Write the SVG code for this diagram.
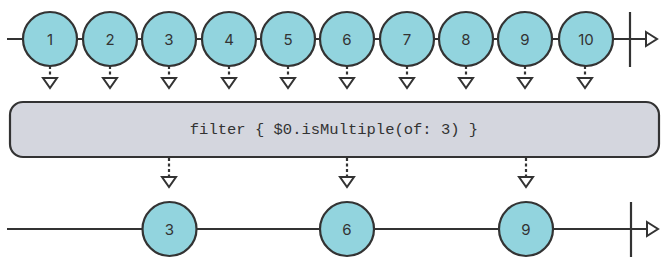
<svg xmlns="http://www.w3.org/2000/svg" width="669" height="266" viewBox="0 0 669 266">
<defs>
<style>
.ln{stroke:#333;stroke-width:2.2;fill:none}
.ds{stroke:#333;stroke-width:2.2;fill:none;stroke-dasharray:3 2.5}
.tri{fill:#fff;stroke:#333;stroke-width:2;stroke-linejoin:miter}
.c{fill:#92d4de;stroke:#333;stroke-width:2.2}
.t{font-family:"Inter","Liberation Sans",sans-serif;font-size:15px;fill:#333;text-anchor:middle;dominant-baseline:central}
.m{font-family:"Liberation Mono","DejaVu Sans Mono",monospace;font-size:15.5px;fill:#333;text-anchor:middle;dominant-baseline:central}
.box{fill:#d4d6de;stroke:#333;stroke-width:2.2}
</style>
<path id="down" class="tri" d="M-7,0 L7,0 L0,10 Z"/>
</defs>
<g id="connectors">
<line class="ln" x1="7" y1="39" x2="646" y2="39"/>
<line class="ln" x1="630" y1="12" x2="630" y2="67"/>
<path class="tri" d="M646,32 L657,39 L646,46 Z"/>
<line class="ln" x1="7" y1="229" x2="647" y2="229"/>
<line class="ln" x1="631" y1="202" x2="631" y2="257"/>
<path class="tri" d="M647,222 L658,229 L647,236 Z"/>
<g id="in-arrows">
<line class="ds" x1="50" y1="66" x2="50" y2="78"/><use href="#down" x="50" y="78"/>
<line class="ds" x1="110" y1="66" x2="110" y2="78"/><use href="#down" x="110" y="78"/>
<line class="ds" x1="169" y1="66" x2="169" y2="78"/><use href="#down" x="169" y="78"/>
<line class="ds" x1="229" y1="66" x2="229" y2="78"/><use href="#down" x="229" y="78"/>
<line class="ds" x1="288" y1="66" x2="288" y2="78"/><use href="#down" x="288" y="78"/>
<line class="ds" x1="347" y1="66" x2="347" y2="78"/><use href="#down" x="347" y="78"/>
<line class="ds" x1="407" y1="66" x2="407" y2="78"/><use href="#down" x="407" y="78"/>
<line class="ds" x1="466" y1="66" x2="466" y2="78"/><use href="#down" x="466" y="78"/>
<line class="ds" x1="525" y1="66" x2="525" y2="78"/><use href="#down" x="525" y="78"/>
<line class="ds" x1="585" y1="66" x2="585" y2="78"/><use href="#down" x="585" y="78"/>
</g>
<g id="out-arrows">
<line class="ds" x1="169" y1="158" x2="169" y2="177"/><use href="#down" x="169" y="177"/>
<line class="ds" x1="347" y1="158" x2="347" y2="177"/><use href="#down" x="347" y="177"/>
<line class="ds" x1="526" y1="158" x2="526" y2="177"/><use href="#down" x="526" y="177"/>
</g>
</g>
<g id="in1"><circle class="c" cx="50" cy="39" r="27"/><text class="t" x="50" y="39">1</text></g>
<g id="in2"><circle class="c" cx="110" cy="39" r="27"/><text class="t" x="110" y="39">2</text></g>
<g id="in3"><circle class="c" cx="169" cy="39" r="27"/><text class="t" x="169" y="39">3</text></g>
<g id="in4"><circle class="c" cx="229" cy="39" r="27"/><text class="t" x="229" y="39">4</text></g>
<g id="in5"><circle class="c" cx="288" cy="39" r="27"/><text class="t" x="288" y="39">5</text></g>
<g id="in6"><circle class="c" cx="347" cy="39" r="27"/><text class="t" x="347" y="39">6</text></g>
<g id="in7"><circle class="c" cx="407" cy="39" r="27"/><text class="t" x="407" y="39">7</text></g>
<g id="in8"><circle class="c" cx="466" cy="39" r="27"/><text class="t" x="466" y="39">8</text></g>
<g id="in9"><circle class="c" cx="525" cy="39" r="27"/><text class="t" x="525" y="39">9</text></g>
<g id="in10"><circle class="c" cx="586" cy="39" r="27"/><text class="t" x="586" y="39">10</text></g>
<g id="filter"><rect class="box" x="10" y="102" width="649" height="55" rx="13"/><text class="m" x="334" y="130">filter { $0.isMultiple(of: 3) }</text></g>
<g id="out3"><circle class="c" cx="169.5" cy="229" r="27"/><text class="t" x="169.5" y="229">3</text></g>
<g id="out6"><circle class="c" cx="347" cy="229" r="27"/><text class="t" x="347" y="229">6</text></g>
<g id="out9"><circle class="c" cx="526" cy="229" r="27"/><text class="t" x="526" y="229">9</text></g>
</svg>
